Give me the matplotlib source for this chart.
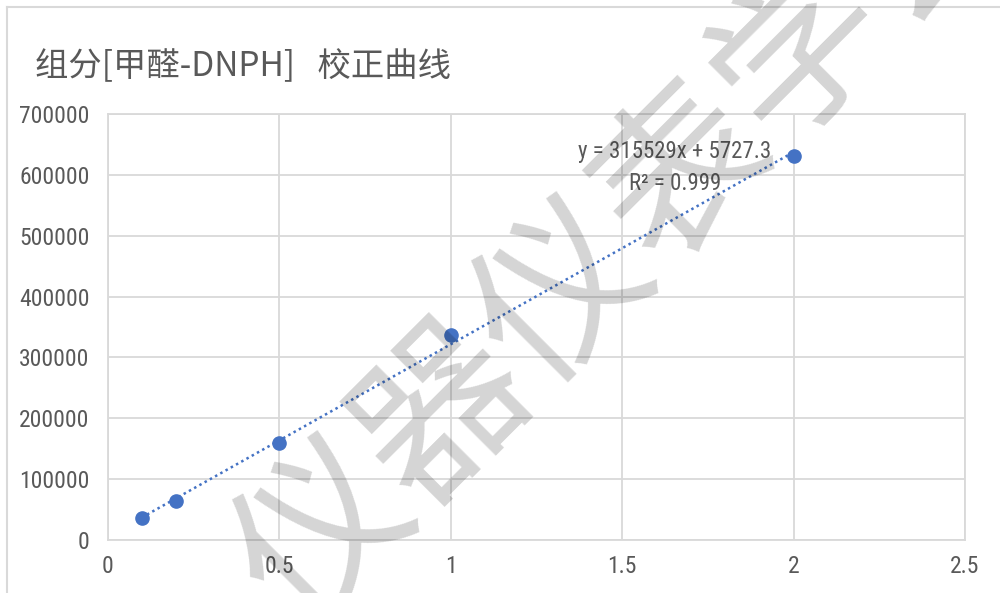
import matplotlib
matplotlib.use('Agg')
import matplotlib.pyplot as plt
from matplotlib import font_manager
from matplotlib.lines import Line2D
import numpy as np

# 校正曲线数据（浓度 vs 峰面积）
conc = [0.1, 0.2, 0.5, 1.0, 2.0]
area = [35700, 64100, 159900, 336800, 630900]
x_ticks = [0, 0.5, 1, 1.5, 2, 2.5]
x_labels = ['0', '0.5', '1', '1.5', '2', '2.5']
y_ticks = [0, 100000, 200000, 300000, 400000, 500000, 600000, 700000]

title = '组分[甲醛-DNPH]   校正曲线'
eq_text = 'y = 315529x + 5727.3'
r2_text = 'R² = 0.999'
watermark = '仪器仪表学会'

GRAY_TXT = '#595959'
GRID = '#d9d9d9'
BLUE = '#4472C4'
CJK_FONT = ['Noto Sans CJK SC', 'DejaVu Sans']


def pick_num_font():
    """窄体数字字体，没有就用普通字体"""
    for name in ['Liberation Sans Narrow', 'Roboto Condensed', 'Open Sans Condensed',
                 'Noto Sans Condensed', 'Arial Narrow']:
        try:
            font_manager.findfont(font_manager.FontProperties(family=name),
                                  fallback_to_default=False)
            return name, True
        except Exception:
            pass
    return 'Liberation Sans', False


num_font, narrow = pick_num_font()
tick_size = 17 if narrow else 14.5
eq_size = 16.5 if narrow else 14.5

fig = plt.figure(figsize=(10, 5.93), dpi=100)
ax = fig.add_axes([0.1075, 0.0894, 0.8575, 0.7184])

# 外框
fig.add_artist(Line2D([0.007, 1.0], [0.988, 0.988], transform=fig.transFigure,
                      color=GRID, linewidth=1.5))
fig.add_artist(Line2D([0.007, 0.007], [0.0, 0.988], transform=fig.transFigure,
                      color=GRID, linewidth=1.5))

# 趋势线（线性拟合）
k, b = np.polyfit(conc, area, 1)
xs = np.array([min(conc), max(conc)])
ax.plot(xs, k * xs + b, linestyle=(0, (1, 1.4)), linewidth=1.8, color=BLUE, zorder=3)
ax.plot(conc, area, 'o', markersize=9.5, color=BLUE, zorder=4)

ax.set_xlim(0, 2.5)
ax.set_ylim(0, 700000)
ax.set_xticks(x_ticks)
ax.set_xticklabels(x_labels)
ax.set_yticks(y_ticks)
ax.set_yticklabels([str(v) for v in y_ticks])
ax.tick_params(length=0, colors=GRAY_TXT, labelsize=tick_size)
ax.tick_params(axis='x', pad=11)
ax.tick_params(axis='y', pad=13)
for lab in ax.get_xticklabels() + ax.get_yticklabels():
    lab.set_family(num_font)
ax.grid(True, color=GRID, linewidth=1.3)
ax.set_axisbelow(True)
for s in ax.spines.values():
    s.set_color(GRID)
    s.set_linewidth(1.3)

# 标题
fig.text(0.035, 1 - 67 / 593, title, fontsize=24, color=GRAY_TXT, family=CJK_FONT,
         ha='left', va='center')

# 公式
fig.text(0.675, 1 - 152 / 593, eq_text, fontsize=eq_size, color=GRAY_TXT,
         family=num_font, ha='center', va='center')
fig.text(0.675, 1 - 183 / 593, r2_text, fontsize=eq_size, color=GRAY_TXT,
         family=num_font, ha='center', va='center')

# 水印（半透明）
fig.text(0.625, 1 - 235 / 593, watermark, fontsize=122, color='black', alpha=0.17,
         family=CJK_FONT, fontweight='medium', rotation=45, rotation_mode='anchor',
         ha='center', va='center', zorder=10)

fig.savefig('out.png', dpi=100, facecolor='white')
